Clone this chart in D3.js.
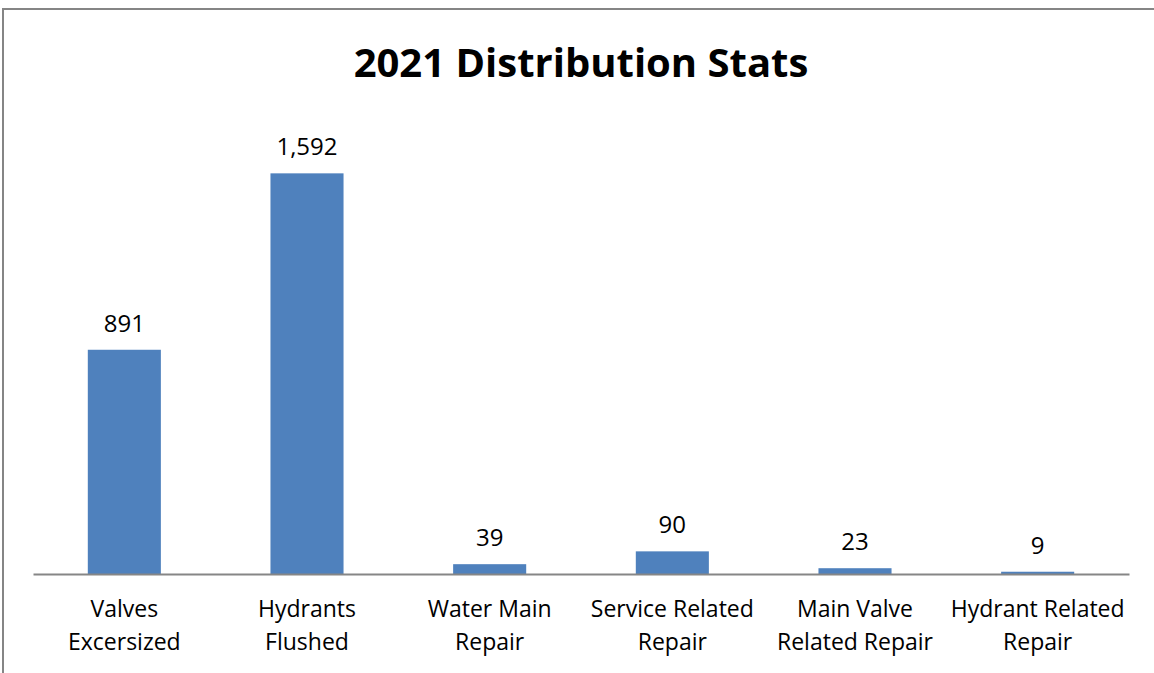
<!DOCTYPE html>
<html>
<head>
<meta charset="utf-8">
<script src="https://cdn.jsdelivr.net/npm/d3@7"></script>
<style>
  html, body { margin: 0; padding: 0; background: #fff; }
  svg { display: block; }
</style>
</head>
<body>
<svg id="chart" width="1154" height="673"></svg>
<script>
// Distribution activity counts for 2021
const categories = [
  ["Valves", "Excersized"],
  ["Hydrants", "Flushed"],
  ["Water Main", "Repair"],
  ["Service Related", "Repair"],
  ["Main Valve", "Related Repair"],
  ["Hydrant Related", "Repair"]
];
const values = [891, 1592, 39, 90, 23, 9];
const title = "2021 Distribution Stats";

const svg = d3.select("#chart");
const W = 1154, H = 673;
const font = "'Open Sans', 'Noto Sans', sans-serif";

// Frame around the chart area
svg.append("path")
  .attr("d", `M3,${H} V9 H${W}`)
  .attr("fill", "none")
  .attr("stroke", "#858585")
  .attr("stroke-width", 2);

const plot = { left: 33, right: 1129, top: 121, bottom: 574 };

const x = d3.scaleBand()
  .domain(d3.range(categories.length))
  .range([plot.left, plot.right])
  .paddingInner(0.6)
  .paddingOuter(0.3);

const y = d3.scaleLinear()
  .domain([0, 1800])
  .range([plot.bottom, plot.top]);

// Bars
svg.append("g").selectAll("rect")
  .data(values)
  .join("rect")
  .attr("x", (d, i) => x(i))
  .attr("y", d => y(d))
  .attr("width", x.bandwidth())
  .attr("height", d => y(0) - y(d))
  .attr("fill", "#4F81BD");

// Category axis
const axis = svg.append("g")
  .attr("transform", `translate(0,${plot.bottom})`)
  .call(d3.axisBottom(x).tickSize(0).tickFormat(""));
axis.select(".domain").attr("stroke", "#868686").attr("stroke-width", 2);

// Wrapped category labels
const labels = svg.append("g").selectAll("text")
  .data(categories)
  .join("text")
  .attr("font-family", font)
  .attr("font-size", 23)
  .attr("fill", "#000")
  .attr("text-anchor", "middle");
labels.each(function(lines, i) {
  const t = d3.select(this);
  lines.forEach((ln, k) => {
    t.append("tspan")
      .attr("x", x(i) + x.bandwidth() / 2)
      .attr("y", 617 + k * 33)
      .text(ln);
  });
});

// Value labels
svg.append("g").selectAll("text")
  .data(values)
  .join("text")
  .attr("x", (d, i) => x(i) + x.bandwidth() / 2)
  .attr("y", d => y(d) - 18)
  .attr("text-anchor", "middle")
  .attr("font-family", font)
  .attr("font-size", 24)
  .attr("fill", "#000")
  .text(d => d3.format(",")(d));

// Title
svg.append("text")
  .attr("x", 581)
  .attr("y", 77)
  .attr("text-anchor", "middle")
  .attr("font-family", font)
  .attr("font-weight", "bold")
  .attr("font-size", 40)
  .attr("fill", "#000")
  .text(title);
</script>
</body>
</html>
